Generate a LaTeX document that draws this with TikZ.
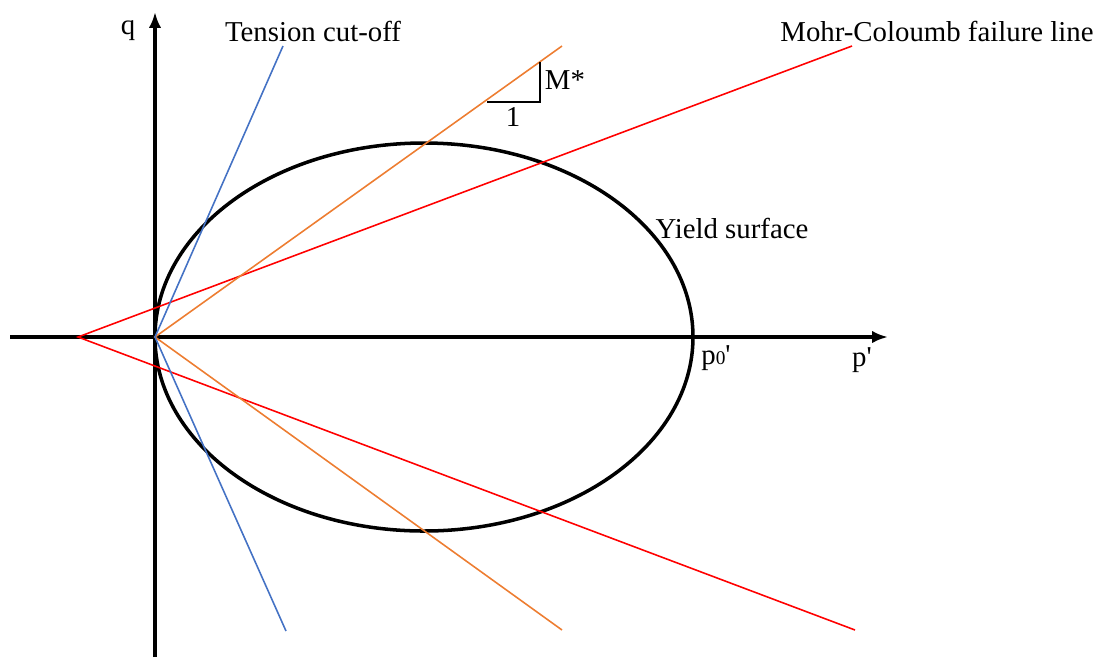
\documentclass[tikz,border=0pt]{standalone}
\usepackage{fontspec}
\setmainfont{Liberation Serif}
\usepackage{tikz}
\usetikzlibrary{arrows.meta,positioning}
\definecolor{mcred}{HTML}{FF0000}
\definecolor{mstar}{HTML}{ED7D31}
\definecolor{tcblue}{HTML}{4472C4}
\begin{document}
\begin{tikzpicture}[x=0.02cm,y=-0.02cm,
			axis/.style={line width=2pt,-{Latex[length=9pt,width=7pt]}},
			yieldsurf/.style={line width=2pt},
			mcline/.style={mcred,line width=0.9pt},
			mline/.style={mstar,line width=0.9pt},
			tcline/.style={tcblue,line width=0.9pt},
			lbl/.style={font=\fontsize{16.4}{20}\selectfont,inner sep=1pt}
			]
			\useasboundingbox (0,0) rectangle (1099,657);
			% axes
			\coordinate (O) at (155,337);
			\coordinate (xs) at (10,337);
			\coordinate (xe) at (888,337);
			\coordinate (ys) at (155,657);
			\coordinate (ye) at (155,12);
			\draw[axis] (xs)--(xe);
			\draw[axis] (ys)--(ye);
			% yield surface
			\draw[yieldsurf] (424,337) ellipse [x radius=269,y radius=194];
			% failure lines
			\coordinate (apex) at (78,337);
			\coordinate (mcu) at (852,46);
			\coordinate (mcd) at (855,630);
			\coordinate (mu) at (562,46);
			\coordinate (md) at (562,630);
			\coordinate (tu) at (283,46);
			\coordinate (td) at (286,631);
			\draw[mcline] (mcu)--(apex)--(mcd);
			\draw[mline] (mu)--(O)--(md);
			\draw[tcline] (tu)--(O)--(td);
			% slope triangle
			\coordinate (s1) at (487,102);
			\coordinate (s2) at (540,102);
			\coordinate (s3) at (540,62);
			\draw[line width=1pt] (s1)--(s2)--(s3);
			% labels
			\node[lbl] (q) at (128,31) {q};
			\node[lbl] (tc) at (313,31) {Tension cut-off};
			\node[lbl] (mc) at (937,31) {Mohr-Coloumb failure line};
			\node[lbl] (mlab) at (565,80) {M*};
			\node[lbl] (one) at (513,117) {1};
			\node[lbl] (yl) at (732,228) {Yield surface};
			\node[lbl] (p0) at (716,358) {p{\fontsize{11}{12}\selectfont 0}\textquotesingle};
			\node[lbl] (p) at (862,360) {p\textquotesingle};
		\end{tikzpicture}
\end{document}
